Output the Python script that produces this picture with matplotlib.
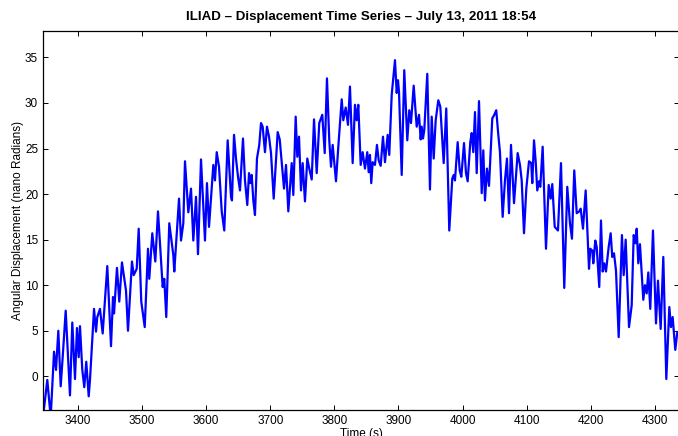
import matplotlib
matplotlib.use("Agg")
import matplotlib.pyplot as plt

# values (turning points of the trace)
time_s = [3345.4, 3352.1, 3357.4, 3362.6, 3365.7, 3369.3, 3373.0, 3376.1, 3380.8, 3387.5,
          3391.1, 3395.3, 3398.4, 3401.1, 3403.1, 3406.7, 3409.8, 3412.9, 3416.7, 3418.7,
          3425.0, 3428.1, 3430.1, 3434.3, 3438.5, 3445.7, 3451.5, 3454.6, 3456.2, 3460.8,
          3464.4, 3468.6, 3474.9, 3478.0, 3484.2, 3486.9, 3491.6, 3494.7, 3498.7, 3504.1,
          3509.2, 3511.2, 3515.9, 3520.6, 3524.8, 3532.1, 3534.6, 3537.7, 3542.4, 3548.7,
          3550.2, 3557.6, 3560.7, 3564.3, 3566.9, 3572.1, 3576.3, 3579.9, 3584.1, 3587.2,
          3591.9, 3598.1, 3601.2, 3604.4, 3611.1, 3613.7, 3616.4, 3620.0, 3624.2, 3628.2,
          3633.5, 3638.7, 3640.2, 3643.4, 3646.5, 3649.6, 3652.7, 3657.4, 3660.5, 3664.1,
          3666.8, 3668.8, 3671.0, 3673.5, 3676.1, 3679.2, 3682.8, 3685.5, 3688.1, 3691.7,
          3694.8, 3698.0, 3701.1, 3705.3, 3711.5, 3714.7, 3721.4, 3724.5, 3728.1, 3733.4,
          3735.9, 3739.6, 3742.1, 3744.8, 3747.9, 3750.5, 3754.1, 3757.7, 3760.8, 3764.6,
          3768.2, 3772.4, 3776.4, 3781.1, 3784.9, 3788.4, 3792.0, 3794.7, 3797.3, 3802.5,
          3806.1, 3811.4, 3813.9, 3817.6, 3821.2, 3824.3, 3828.5, 3832.1, 3834.8, 3837.3,
          3841.0, 3844.1, 3847.7, 3851.3, 3853.5, 3855.5, 3857.5, 3859.7, 3863.3, 3866.4,
          3869.1, 3872.2, 3875.8, 3878.9, 3883.1, 3885.6, 3889.4, 3894.5, 3897.2, 3899.2,
          3900.8, 3905.0, 3909.0, 3913.7, 3916.8, 3919.5, 3923.7, 3928.4, 3932.0, 3934.6,
          3936.2, 3938.2, 3940.2, 3944.9, 3949.1, 3951.8, 3954.9, 3958.0, 3962.1, 3965.2,
          3970.5, 3974.5, 3979.2, 3983.9, 3986.1, 3988.1, 3992.3, 3995.5, 3998.0, 4002.2,
          4005.3, 4007.9, 4012.0, 4014.2, 4016.7, 4019.3, 4022.0, 4025.6, 4029.8, 4032.3,
          4034.9, 4038.0, 4041.2, 4046.3, 4049.4, 4052.5, 4055.7, 4058.3, 4062.5, 4066.1,
          4069.2, 4072.4, 4075.5, 4080.2, 4082.8, 4085.9, 4089.5, 4092.2, 4095.8, 4099.4,
          4103.6, 4107.1, 4108.7, 4111.4, 4114.0, 4116.5, 4119.2, 4121.2, 4124.9, 4130.1,
          4134.3, 4137.4, 4139.9, 4143.7, 4148.8, 4153.5, 4158.6, 4163.3, 4167.5, 4170.6,
          4174.2, 4178.0, 4182.0, 4184.2, 4187.8, 4192.0, 4197.2, 4199.2, 4202.3, 4203.9,
          4207.0, 4209.2, 4213.2, 4215.9, 4218.5, 4221.0, 4223.7, 4227.9, 4231.0, 4233.5,
          4236.2, 4239.3, 4243.5, 4248.6, 4251.3, 4254.4, 4259.6, 4263.8, 4266.9, 4269.4,
          4271.6, 4274.1, 4276.7, 4281.9, 4284.5, 4287.2, 4289.7, 4292.8, 4297.0, 4301.7,
          4304.8, 4309.0, 4313.1, 4317.8, 4322.5, 4325.1, 4327.7, 4331.8, 4334.9]

displacement = [-4.5, -0.4, -4.5, 2.7, 0.7, 5.0, -1.1, 2.1, 7.2, -2.1,
                5.9, -0.3, 5.3, 2.1, 5.5, 0.7, -1.2, 1.6, -2.2, -0.4,
                7.4, 4.9, 6.5, 7.4, 4.7, 12.1, 3.3, 8.7, 6.9, 11.9,
                8.2, 12.5, 9.4, 5.0, 12.6, 11.1, 11.8, 16.2, 8.2, 5.4,
                14.0, 10.7, 15.7, 12.6, 18.1, 9.8, 10.7, 6.5, 16.8, 13.3,
                11.5, 19.5, 14.9, 16.8, 23.6, 18.0, 20.6, 14.9, 19.7, 13.4,
                23.8, 14.9, 21.2, 16.4, 23.2, 21.5, 24.6, 23.0, 18.1, 16.0,
                25.9, 19.7, 19.3, 26.5, 23.9, 21.9, 20.4, 26.1, 21.5, 18.8,
                22.3, 21.2, 22.1, 19.3, 17.7, 23.9, 25.4, 27.8, 27.4, 24.6,
                27.4, 26.3, 24.5, 19.5, 26.8, 26.0, 20.6, 23.2, 18.1, 23.4,
                19.9, 28.5, 24.1, 26.3, 20.4, 23.4, 19.2, 23.9, 22.8, 21.6,
                28.2, 22.3, 27.8, 28.7, 24.5, 32.7, 25.9, 23.0, 25.4, 21.4,
                25.2, 30.4, 28.1, 29.5, 27.6, 31.8, 23.4, 29.8, 28.1, 29.8,
                23.2, 24.6, 22.8, 24.6, 22.4, 24.3, 21.2, 23.5, 23.2, 25.4,
                23.7, 23.1, 26.3, 23.5, 26.5, 24.3, 30.9, 34.7, 31.1, 32.5,
                31.2, 22.1, 33.6, 25.9, 29.2, 27.8, 31.9, 27.4, 28.7, 26.0,
                27.4, 26.1, 27.0, 33.2, 20.5, 28.5, 23.9, 28.1, 30.3, 29.6,
                23.4, 29.4, 16.0, 21.7, 22.1, 21.5, 25.7, 22.6, 21.9, 25.6,
                22.3, 21.4, 25.7, 26.7, 24.6, 29.0, 22.3, 30.2, 20.1, 24.8,
                19.3, 22.8, 20.9, 28.3, 28.7, 29.2, 26.5, 24.6, 17.5, 21.5,
                23.9, 17.9, 25.4, 19.0, 21.5, 24.5, 23.2, 21.5, 15.7, 20.6,
                23.6, 23.4, 21.2, 25.9, 23.6, 20.4, 21.4, 20.8, 25.2, 14.0,
                21.0, 19.5, 21.1, 16.4, 16.0, 23.4, 9.7, 20.8, 16.8, 15.1,
                22.6, 17.9, 18.1, 18.4, 16.2, 20.4, 11.8, 14.0, 13.8, 12.4,
                14.9, 14.2, 9.8, 17.1, 11.5, 12.4, 11.5, 14.2, 15.7, 13.1,
                13.5, 11.6, 4.3, 15.5, 11.1, 15.0, 5.4, 7.8, 15.5, 14.6,
                16.2, 12.4, 14.5, 8.4, 10.0, 9.1, 11.4, 7.4, 16.0, 5.8,
                10.5, 5.2, 13.1, -0.3, 7.6, 5.4, 6.5, 2.9, 4.8]

plt.rcParams['font.family'] = ['Liberation Sans', 'DejaVu Sans']

fig = plt.figure(figsize=(6.78, 4.36), dpi=100)
ax = fig.add_axes([43 / 678, 26 / 436, 636 / 678, 379 / 436])

ax.plot(time_s, displacement, color=(0, 0, 1), linewidth=1.6)

ax.set_xlim(3345.4, 4337.6)
ax.set_ylim(-3.7, 37.9)
ax.set_xticks(range(3400, 4301, 100))
ax.set_yticks(range(0, 36, 5))

ax.tick_params(direction='in', length=3.8, width=0.7, labelsize=8.5,
               top=True, right=True, colors='black')
for s in ax.spines.values():
    s.set_linewidth(0.9)

ax.set_title("ILIAD \u2013 Displacement Time Series \u2013 July 13, 2011 18:54",
             fontsize=9.6, fontweight='bold', pad=8)
ax.set_xlabel("Time (s)", fontsize=8.5, labelpad=1)
ax.set_ylabel("Angular Displacement (nano Radians)", fontsize=8.5, labelpad=1)

fig.savefig("out.png", dpi=100)
